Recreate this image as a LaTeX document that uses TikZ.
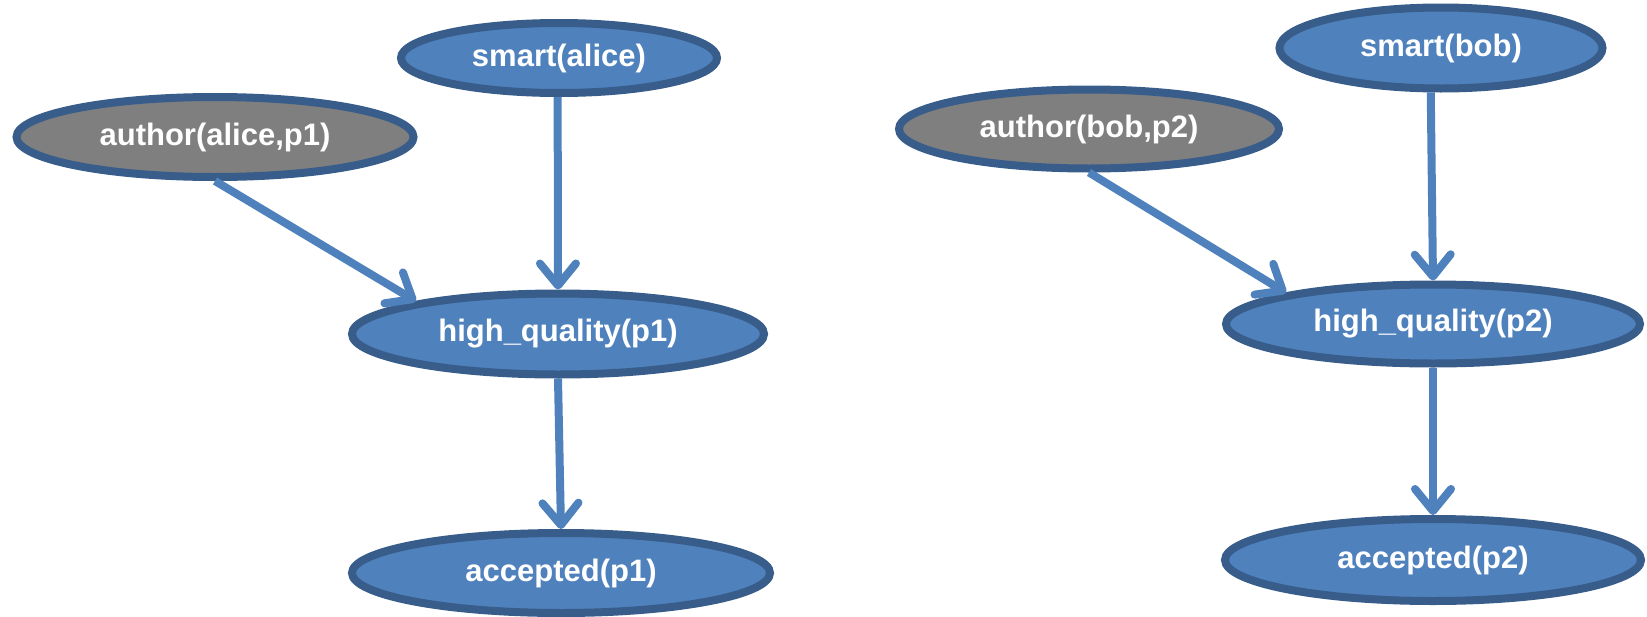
\documentclass[tikz,border=0pt]{standalone}
\usepackage{fontspec}
\setmainfont{Liberation Sans}
\usetikzlibrary{shapes.geometric,arrows.meta}
\definecolor{nodefill}{HTML}{4F81BD}
\definecolor{nodeline}{HTML}{385D8A}
\definecolor{greyfill}{HTML}{7F7F7F}
\definecolor{arrowcol}{HTML}{4F81BD}
\begin{document}
\begin{tikzpicture}[x=1pt,y=-1pt,
  fact/.style={ellipse, draw=nodeline, line width=8pt, fill=nodefill, text=white,
    font=\fontsize{31}{35}\selectfont\bfseries, inner sep=0pt},
  given/.style={fact, fill=greyfill},
  link/.style={draw=arrowcol, line width=8pt,
    -{Straight Barb[length=22pt,width=36pt,round]}}]
\useasboundingbox (0,0) rectangle (1647,616);
% left graph
\node[fact,  minimum width=316pt, minimum height=70pt] (sa)  at (559,58)  {smart(alice)};
\node[given, minimum width=397pt, minimum height=80pt] (aa)  at (215,137) {author(alice,p1)};
\node[fact,  minimum width=412pt, minimum height=81pt] (hq1) at (558,334) {high\_quality(p1)};
\node[fact,  minimum width=418pt, minimum height=80pt] (ac1) at (561,573) {accepted(p1)};
% right graph
\node[fact,  minimum width=323pt, minimum height=81pt] (sb)  at (1441,48)  {smart(bob)};
\node[given, minimum width=380pt, minimum height=79pt] (ab)  at (1089,129) {author(bob,p2)};
\node[fact,  minimum width=414pt, minimum height=79pt] (hq2) at (1433,324) {high\_quality(p2)};
\node[fact,  minimum width=416pt, minimum height=82pt] (ac2) at (1433,560) {accepted(p2)};
% connectors
\draw[link] (aa.south) -- (hq1.167);
\draw[link] (sa.268) -- (hq1.north);
\draw[link] (hq1.south) -- (ac1.north);
\draw[link] (ab.south) -- (hq2.168);
\draw[link] (sb.257) -- (hq2.north);
\draw[link] (hq2.south) -- (ac2.north);
\end{tikzpicture}
\end{document}
